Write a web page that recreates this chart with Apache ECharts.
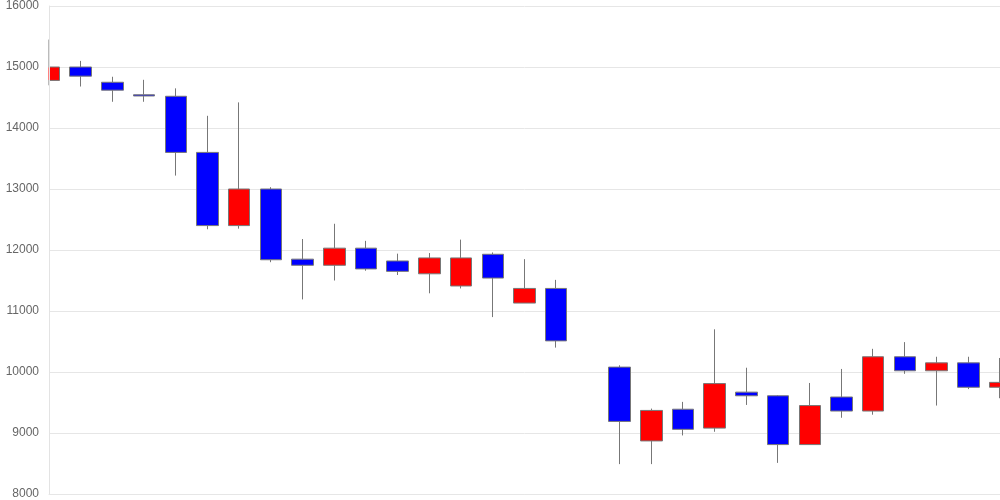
<!DOCTYPE html>
<html><head><meta charset="utf-8">
<script src="https://cdn.jsdelivr.net/npm/echarts@6/dist/echarts.min.js"></script>
<style>html,body{margin:0;padding:0;background:#fff}#c{width:1000px;height:500px}</style>
</head><body><div id="c"></div>
<script>
const categories = ['1','2','3','4','5','6','7','8','9','10','11','12','13','14','15','16','17','18','19','20','21','22','23','24','25','26','27','28','29','30','31'];
const opens  = [14780,15000,14750,14545,14520,13600,12400,13000,11850,11750,12030,11820,11610,11410,11930,11130,11370,null,10080,8870,9390,9080,9670,9610,8810,9590,9360,10250,10020,10150,9750];
const closes = [15000,14850,14620,14525,13600,12400,13000,11840,11750,12030,11690,11650,11870,11870,11540,11370,10510,null,9190,9370,9060,9810,9610,8810,9450,9360,10250,10020,10150,9750,9830];
const lows   = [14700,14680,14430,14430,13220,12340,12350,11800,11190,11500,11660,11590,11290,11370,10900,11130,10400,null,8490,8490,8960,9020,9460,8510,8810,9250,9300,9970,9450,9720,9570];
const highs  = [15450,15100,14840,14790,14650,14200,14420,13030,12180,12430,12150,11940,11950,12170,11960,11850,11510,null,10110,9400,9510,10700,10070,9620,9820,10050,10380,10490,10250,10250,10230];
const yTicks = [8000,9000,10000,11000,12000,13000,14000,15000,16000];

const data = categories.map((c,i)=> opens[i]==null ? '-' : [opens[i],closes[i],lows[i],highs[i]]);
const chart = echarts.init(document.getElementById('c'));
const yMin = yTicks[0], yMax = yTicks[yTicks.length-1];
chart.setOption({
  animation:false,
  grid:{left:49,right:0,top:6,bottom:6},
  xAxis:{type:'category',data:categories,boundaryGap:false,z:10,
    axisLine:{show:true,lineStyle:{color:'#e6e6e6'}},axisTick:{show:false},axisLabel:{show:false},splitLine:{show:false}},
  yAxis:[
    {type:'value',min:yMin,max:yMax,interval:1000,z:0,
     axisLine:{show:false},axisTick:{show:false},axisLabel:{show:false},
     splitLine:{lineStyle:{color:'#e6e6e6'}}},
    {type:'value',min:yMin,max:yMax,interval:1000,position:'left',z:10,
     axisLine:{show:true,lineStyle:{color:'#e3e3e3'}},axisTick:{show:false},
     axisLabel:{color:'#666',fontSize:12,fontFamily:'Liberation Sans, Arial, sans-serif',margin:10,formatter:v=>String(v)},
     splitLine:{show:false}}
  ],
  graphic:[{type:'rect',z:5,shape:{x:0,y:0,width:48.5,height:500},style:{fill:'#fff'},silent:true}],
  series:[{type:'candlestick',data:data,barWidth:22,yAxisIndex:0,z:2,
    itemStyle:{color:'#ff0000',color0:'#0000ff',borderColor:'#777',borderColor0:'#777',borderWidth:1}}]
});
</script></body></html>
